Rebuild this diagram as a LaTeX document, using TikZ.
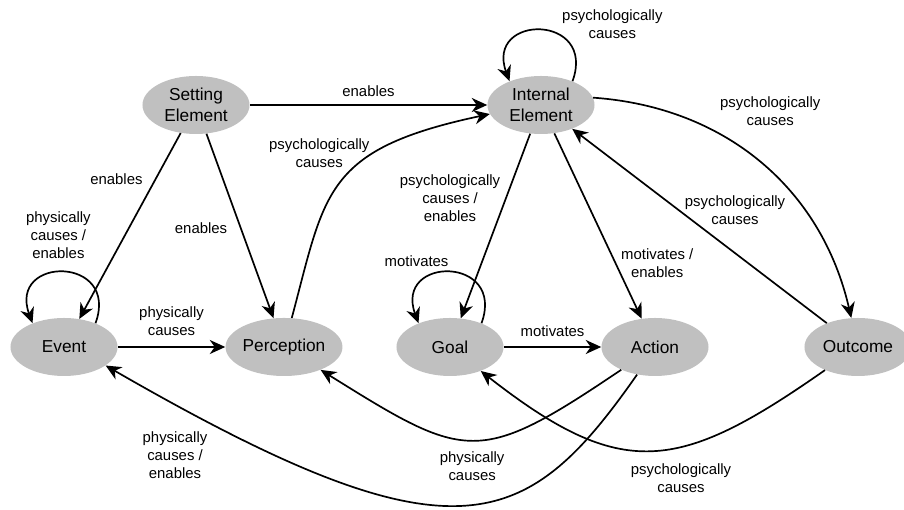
\documentclass[tikz,border=0pt]{standalone}
\usepackage{fontspec}
\setmainfont{Liberation Sans}
\usetikzlibrary{shapes.geometric,arrows.meta}
\definecolor{stategray}{RGB}{192,192,192}
\begin{document}
\begin{tikzpicture}[x=0.025cm, y=0.025cm,
  state/.style={ellipse, fill=stategray, minimum width=2.675cm,
    minimum height=1.45cm, inner sep=0pt, align=center,
    font=\fontsize{12.3}{15.3}\selectfont},
  rel/.style={font=\fontsize{10.6}{12.8}\selectfont, align=center, inner sep=3.5pt},
  every edge/.style={draw, line width=1.2pt,
    -{Stealth[length=11pt,width=10pt,inset=3.5pt]}},
  selfloop/.style={out=70, in=110, distance=1.8cm}
  ]
  \useasboundingbox (0,0) rectangle (904,510);

  \node[state] (setting) at (196,405) {Setting\\Element};
  \node[state] (internal) at (541,405) {Internal\\Element};
  \node[state] (event) at (64,163) {Event};
  \node[state] (perception) at (284,163) {Perception};
  \node[state] (goal) at (450,163) {Goal};
  \node[state] (action) at (655,163) {Action};
  \node[state] (outcome) at (858,163) {Outcome};

  \draw (setting) edge node[rel, above=2pt] {enables} (internal)
    edge node[rel, pos=0.25, left=5pt] {enables} (event)
    edge node[rel, pos=0.51, left=5.5pt] {enables} (perception);

  \draw (event.37) edge[selfloop] node[rel, above=6pt, xshift=-4pt] {physically\\causes /\\enables} (event.143);
  \draw (internal.37) edge[selfloop] node[rel, right=11pt, yshift=4.5pt] {psychologically\\causes} (internal.143);
  \draw (goal.37) edge[selfloop] node[rel, above left, xshift=3pt] {motivates} (goal.143);

  \draw (event) edge node[rel, above=4pt] {physically\\causes} (perception);
  \draw (goal) edge node[rel, above=3pt] {motivates} (action);

  \draw (perception) edge[out=75, in=192, out distance=3.25cm, in distance=4.25cm]
    node[rel, pos=0.68, left] {psychologically\\causes} (internal.190);

  \draw (internal.8) edge[out=-4, in=103]
    node[rel, pos=0.34, above right] {psychologically\\causes} (outcome);
  \draw (internal) edge node[rel, pos=0.35, left] {psychologically\\causes /\\enables} (goal)
    edge node[rel, pos=0.7, right] {motivates /\\enables} (action);

  \draw (outcome) edge node[rel, pos=0.58, right] {psychologically\\causes} (internal)
    edge[out=215, in=-38, looseness=1.33]
      node[rel, pos=0.4, below=8pt] {psychologically\\causes} (goal);

  \draw (action) edge[out=214, in=-32, looseness=1.47]
    node[rel, below=4pt] {physically\\causes} (perception);
  \draw (action.237) edge[out=235, in=-30, out distance=4.85cm, in distance=10.08cm]
    node[rel, pos=0.93, below=15pt] {physically\\causes /\\enables} (event.-24);
\end{tikzpicture}
\end{document}
